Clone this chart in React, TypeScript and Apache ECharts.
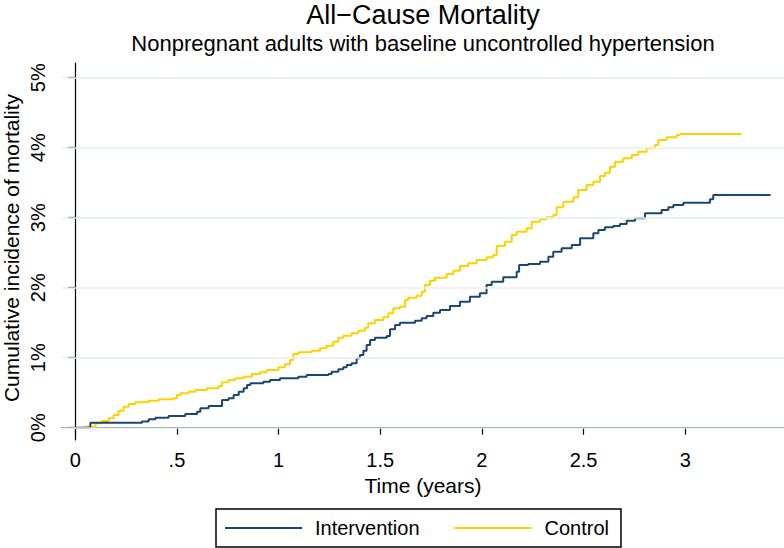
import React, { useEffect, useRef } from "react";
import * as echarts from "echarts";

// Time in years, cumulative incidence in %
const interventionTime = [0, 0.074, 0.328, 0.361, 0.394, 0.459, 0.541, 0.599, 0.615, 0.656, 0.722, 0.754, 0.779, 0.804, 0.828, 0.845, 0.861, 0.925, 0.958, 1.007, 1.097, 1.138, 1.245, 1.261, 1.294, 1.318, 1.335, 1.359, 1.384, 1.4, 1.417, 1.433, 1.45, 1.474, 1.532, 1.548, 1.573, 1.597, 1.671, 1.704, 1.728, 1.761, 1.794, 1.843, 1.892, 1.941, 1.99, 2.023, 2.048, 2.105, 2.171, 2.183, 2.228, 2.286, 2.327, 2.351, 2.392, 2.442, 2.483, 2.548, 2.573, 2.605, 2.646, 2.679, 2.712, 2.753, 2.802, 2.884, 2.917, 2.942, 2.991, 3.122, 3.138, 3.42];
const interventionPct = [0, 0.072, 0.09, 0.12, 0.143, 0.167, 0.196, 0.229, 0.277, 0.31, 0.396, 0.42, 0.467, 0.515, 0.562, 0.61, 0.634, 0.657, 0.681, 0.705, 0.729, 0.753, 0.767, 0.8, 0.834, 0.862, 0.896, 0.92, 0.991, 1.039, 1.1, 1.181, 1.253, 1.286, 1.31, 1.405, 1.467, 1.5, 1.529, 1.562, 1.596, 1.643, 1.681, 1.739, 1.8, 1.872, 1.92, 2.039, 2.086, 2.148, 2.229, 2.324, 2.339, 2.372, 2.443, 2.515, 2.562, 2.61, 2.705, 2.777, 2.824, 2.862, 2.881, 2.91, 2.957, 2.991, 3.062, 3.11, 3.148, 3.181, 3.215, 3.262, 3.324, 3.324];

const controlTime = [0, 0.049, 0.099, 0.131, 0.164, 0.189, 0.213, 0.238, 0.263, 0.295, 0.361, 0.41, 0.484, 0.5, 0.517, 0.558, 0.59, 0.648, 0.705, 0.722, 0.754, 0.787, 0.828, 0.869, 0.909, 0.941, 0.999, 1.031, 1.056, 1.072, 1.097, 1.163, 1.204, 1.236, 1.269, 1.294, 1.318, 1.359, 1.392, 1.425, 1.441, 1.474, 1.515, 1.54, 1.564, 1.597, 1.622, 1.638, 1.679, 1.704, 1.72, 1.745, 1.769, 1.827, 1.86, 1.892, 1.933, 1.974, 2.023, 2.056, 2.073, 2.114, 2.147, 2.171, 2.22, 2.245, 2.286, 2.319, 2.351, 2.368, 2.401, 2.45, 2.474, 2.515, 2.548, 2.581, 2.605, 2.63, 2.655, 2.696, 2.737, 2.769, 2.81, 2.851, 2.868, 2.909, 2.958, 2.974, 3.278];
const controlPct = [0, 0.015, 0.062, 0.096, 0.134, 0.181, 0.243, 0.3, 0.339, 0.362, 0.386, 0.405, 0.42, 0.467, 0.491, 0.515, 0.539, 0.562, 0.596, 0.648, 0.681, 0.705, 0.729, 0.767, 0.791, 0.824, 0.862, 0.905, 0.967, 1.053, 1.077, 1.1, 1.134, 1.172, 1.229, 1.286, 1.314, 1.348, 1.386, 1.429, 1.491, 1.539, 1.577, 1.634, 1.705, 1.729, 1.824, 1.858, 1.886, 1.943, 2.039, 2.1, 2.143, 2.196, 2.243, 2.31, 2.348, 2.396, 2.434, 2.467, 2.596, 2.658, 2.753, 2.8, 2.848, 2.943, 2.977, 3.005, 3.039, 3.148, 3.229, 3.291, 3.396, 3.467, 3.515, 3.596, 3.643, 3.729, 3.8, 3.848, 3.896, 3.943, 3.991, 4.039, 4.11, 4.148, 4.181, 4.196, 4.196];

const xTicks = [0, 0.5, 1, 1.5, 2, 2.5, 3];
const yTicks = [0, 1, 2, 3, 4, 5];
const seriesNames = ["Intervention", "Control"];

const FONT = '"Liberation Sans", Arial, Helvetica, sans-serif';
const NAVY = "#1a476f";
const GOLD = "#ffd100";
const GRIDC = "#e6eff1";

export default function App() {
  const ref = useRef<HTMLDivElement>(null);
  useEffect(() => {
    if (!ref.current) return;
    const chart = echarts.init(ref.current, null, { renderer: "svg" });
    const pair = (t: number[], v: number[]) => t.map((x, i) => [x, v[i]]);
    const fmtX = (v: number) => {
      const s = String(v);
      return v > 0 && v < 1 ? s.replace(/^0/, "") : s;
    };
    chart.setOption({
      animation: false,
      backgroundColor: "#ffffff",
      grid: { left: 62, right: 0, top: 63, bottom: 108, containLabel: false },
      xAxis: {
        type: "value",
        min: -0.0654,
        max: 3.486,
        axisLine: { show: true, lineStyle: { color: "#000", width: 1.2 } },
        axisTick: { show: true, customValues: xTicks, length: 7, lineStyle: { color: "#000", width: 1.2 } },
        axisLabel: {
          customValues: xTicks,
          formatter: fmtX,
          fontSize: 20,
          fontFamily: FONT,
          color: "#000",
          margin: 10,
        },
        splitLine: { show: false },
      },
      yAxis: {
        type: "value",
        min: -0.176,
        max: 5.21,
        axisLine: { show: true, lineStyle: { color: "#000", width: 1.2 } },
        axisTick: { show: true, customValues: yTicks, length: 7, lineStyle: { color: "#000", width: 1.2 } },
        axisLabel: {
          customValues: yTicks,
          formatter: (v: number) => `${v}%`,
          rotate: 90,
          fontSize: 20,
          fontFamily: FONT,
          color: "#000",
          margin: 14,
        },
        splitLine: { show: false },
      },
      legend: {
        data: seriesNames,
        left: 216,
        top: 509,
        orient: "horizontal",
        icon: "rect",
        itemWidth: 77,
        itemHeight: 2,
        itemGap: 35,
        padding: [9, 12, 9, 9],
        borderColor: "#000",
        borderWidth: 1.5,
        backgroundColor: "#fff",
        textStyle: { fontSize: 20, fontFamily: FONT, color: "#000", padding: [0, 0, 0, 8] },
      },
      graphic: [
        {
          type: "text",
          x: 423,
          y: 15,
          style: { text: "All\u2212Cause Mortality", fontSize: 27, fontFamily: FONT, fill: "#000", align: "center", verticalAlign: "middle", textAlign: "center", textVerticalAlign: "middle" },
        },
        {
          type: "text",
          x: 423,
          y: 43,
          style: { text: "Nonpregnant adults with baseline uncontrolled hypertension", fontSize: 22, fontFamily: FONT, fill: "#000", align: "center", verticalAlign: "middle", textAlign: "center", textVerticalAlign: "middle" },
        },
        {
          type: "text",
          x: 423,
          y: 485,
          style: { text: "Time (years)", fontSize: 21, fontFamily: FONT, fill: "#000", align: "center", verticalAlign: "middle", textAlign: "center", textVerticalAlign: "middle" },
        },
        {
          type: "text",
          x: 11,
          y: 248,
          rotation: Math.PI / 2,
          style: { text: "Cumulative incidence of mortality", fontSize: 21, fontFamily: FONT, fill: "#000", align: "center", verticalAlign: "middle", textAlign: "center", textVerticalAlign: "middle" },
        },
      ],
      series: [
        {
          name: "gridlines",
          type: "line",
          data: [],
          z: 1,
          silent: true,
          markLine: {
            silent: true,
            symbol: "none",
            label: { show: false },
            lineStyle: { color: GRIDC, width: 1.5, type: "solid" },
            data: yTicks.map((v) => ({ yAxis: v })),
          },
        },
        {
          name: seriesNames[0],
          type: "line",
          step: "end",
          showSymbol: false,
          z: 3,
          color: NAVY,
          lineStyle: { color: NAVY, width: 2 },
          data: pair(interventionTime, interventionPct),
        },
        {
          name: seriesNames[1],
          type: "line",
          step: "end",
          showSymbol: false,
          z: 2,
          color: GOLD,
          lineStyle: { color: GOLD, width: 2 },
          data: pair(controlTime, controlPct),
        },
      ],
    });
    return () => chart.dispose();
  }, []);
  return (
    <div
      ref={ref}
      style={{ position: "absolute", left: 0, top: 0, width: 784, height: 548 }}
    />
  );
}
